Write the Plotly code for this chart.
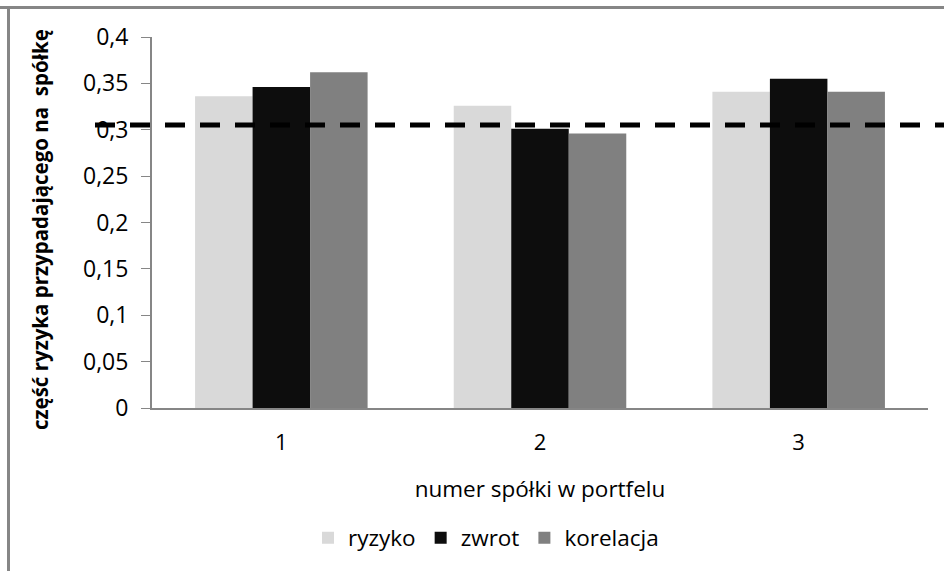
import plotly.graph_objects as go

categories = ["1", "2", "3"]
series_names = ["ryzyko", "zwrot", "korelacja"]
ryzyko = [0.336, 0.326, 0.341]
zwrot = [0.346, 0.301, 0.355]
korelacja = [0.362, 0.296, 0.341]
reference_level = 0.305
y_tick_vals = [0, 0.05, 0.1, 0.15, 0.2, 0.25, 0.3, 0.35, 0.4]
y_tick_text = ["0", "0,05", "0,1", "0,15", "0,2", "0,25", "0,3", "0,35", "0,4"]
x_title = "numer spółki w portfelu"
y_title = "część ryzyka przypadającego na  spółkę"

colors = ["#d9d9d9", "#0d0d0d", "#808080"]
FONT = "Open Sans"

W, H = 944, 571
ML, MR, MT, MB = 152, 16, 37, 163
PW = W - ML - MR
PH = H - MT - MB


def px_x(x):
    return (x - ML) / PW


def px_y(y):
    return (H - MB - y) / PH


fig = go.Figure()
for name, vals, col in zip(series_names, [ryzyko, zwrot, korelacja], colors):
    fig.add_trace(go.Bar(x=categories, y=vals, name=name, marker=dict(color=col, line=dict(width=0))))

# dashed reference line across the figure
fig.add_shape(type="line", xref="paper", yref="y", x0=px_x(95), x1=px_x(950),
              y0=reference_level, y1=reference_level,
              line=dict(color="#000000", width=5, dash="20px,15px"), layer="above")
# outer frame (top and left edges)
fig.add_shape(type="line", xref="paper", yref="paper", x0=px_x(0), x1=px_x(W),
              y0=px_y(7.5), y1=px_y(7.5), line=dict(color="#868686", width=3))
fig.add_shape(type="line", xref="paper", yref="paper", x0=px_x(8.5), x1=px_x(8.5),
              y0=px_y(6), y1=px_y(H), line=dict(color="#868686", width=3))

fig.add_annotation(text=y_title, xref="paper", yref="paper", x=px_x(40), y=px_y(230),
                   textangle=-90, showarrow=False, xanchor="center", yanchor="middle",
                   font=dict(family=FONT, size=20.5, color="#000000", weight="bold"))

fig.update_layout(
    width=W, height=H,
    margin=dict(l=ML, r=MR, t=MT, b=MB),
    paper_bgcolor="white", plot_bgcolor="white",
    barmode="group", bargap=0.333, bargroupgap=0,
    font=dict(family=FONT, size=22, color="#000000"),
    showlegend=True,
    legend=dict(orientation="h", x=px_x(486), y=px_y(538), xanchor="center", yanchor="middle",
                font=dict(family=FONT, size=22.5), itemwidth=30, traceorder="normal"),
    xaxis=dict(showline=True, linecolor="#868686", linewidth=2, ticks="", showgrid=False,
               ticklabelstandoff=14,
               title=dict(text=x_title, font=dict(family=FONT, size=22.5), standoff=26),
               tickfont=dict(family=FONT, size=22)),
    yaxis=dict(range=[0, 0.4], tickvals=y_tick_vals, ticktext=y_tick_text,
               showline=True, linecolor="#868686", linewidth=2, ticks="outside",
               ticklen=9, tickcolor="#868686", tickwidth=1, showgrid=False,
               zeroline=False, ticklabelstandoff=8,
               tickfont=dict(family=FONT, size=23)),
)

fig.write_html("out.html", config={"displayModeBar": False},
               post_script="document.body.style.margin='0';document.body.style.overflow='hidden';")
